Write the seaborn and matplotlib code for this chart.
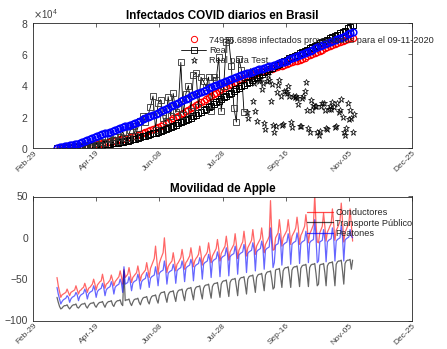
import itertools
import pandas as pd
import seaborn as sns
import matplotlib.pyplot as plt
import matplotlib.dates as mdates
from matplotlib.lines import Line2D

# ---- Infectados (miles de casos), todas las series empiezan el 19-03-2020 ----
# proyecciones y banda real suavizada, cada 2 dias
proj_red = [0.2, 0.25, 0.3, 0.4, 0.45, 0.55, 0.65, 0.75,
            0.85, 1.0, 1.2, 1.4, 1.6, 1.8, 2.0,
            2.2, 2.5, 2.8, 3.1, 3.4, 3.7, 4.1, 4.4,
            4.7, 5.1, 5.5, 5.9, 6.3, 6.7, 7.1,
            7.5, 8.0, 8.6, 9.1, 9.6, 10.2, 10.8, 11.3,
            11.9, 12.7, 13.5, 14.3, 15.1, 16.0, 16.9,
            18.0, 18.9, 19.8, 20.7, 21.7, 22.6, 23.5, 24.4,
            25.4, 26.3, 27.3, 28.3, 29.3, 30.3, 31.4,
            32.5, 33.5, 34.5, 35.5, 36.5, 37.5, 38.5, 39.4,
            40.3, 41.0, 41.8, 42.5, 43.3, 44.0, 44.8,
            45.5, 46.1, 46.7, 47.3, 47.9, 48.5, 49.0, 49.4,
            49.8, 50.3, 50.8, 51.3, 51.8, 52.2, 52.6,
            53.0, 53.6, 54.2, 54.8, 55.4, 56.0, 56.6, 57.2,
            57.9, 58.6, 59.4, 60.1, 60.9, 61.6, 62.3,
            63.0, 63.7, 64.4, 65.0, 65.7, 66.4, 67.1, 67.7,
            68.3, 68.9, 69.5, 70.1, 70.7]
proj_blue = [0.3, 0.6, 0.9, 1.2, 1.5, 1.8, 2.1, 2.4,
             2.8, 3.3, 3.8, 4.4, 5.0, 5.7, 6.4,
             7.1, 7.6, 8.2, 8.8, 9.3, 9.9, 10.5, 11.1,
             11.6, 12.1, 12.6, 13.2, 13.8, 14.4, 15.0,
             15.5, 16.2, 16.9, 17.6, 18.3, 19.0, 19.7, 20.4,
             21.1, 21.9, 22.7, 23.5, 24.2, 25.0, 25.8,
             26.6, 27.4, 28.2, 29.0, 29.8, 30.6, 31.4, 32.2,
             33.0, 33.8, 34.6, 35.3, 36.0, 36.7, 37.4,
             38.1, 38.8, 39.5, 40.2, 40.9, 41.6, 42.3, 43.0,
             43.6, 44.2, 44.8, 45.4, 46.0, 46.6, 47.2,
             47.8, 48.3, 48.8, 49.3, 49.8, 50.3, 50.8, 51.3,
             51.8, 52.3, 52.8, 53.3, 53.8, 54.3, 54.8,
             55.3, 56.0, 56.7, 57.4, 58.1, 58.8, 59.5, 60.2,
             60.9, 61.6, 62.3, 63.0, 63.7, 64.4, 65.1,
             65.8, 66.5, 67.2, 67.8, 68.5, 69.2, 69.9, 70.5,
             71.1, 72.0, 72.7, 73.4, 74.1]
real_band = [0.0, 0.05, 0.1, 0.15, 0.2, 0.3, 0.4, 0.45,
             0.55, 0.7, 0.8, 0.95, 1.1, 1.2, 1.35,
             1.5, 1.7, 1.9, 2.1, 2.3, 2.5, 2.7, 2.9,
             3.1, 3.4, 3.8, 4.1, 4.4, 4.8, 5.1,
             5.5, 6.0, 6.4, 6.9, 7.4, 7.9, 8.4, 8.8,
             9.3, 9.9, 10.5, 11.1, 11.7, 12.3, 12.9,
             13.5, 14.2, 15.0, 15.7, 16.4, 17.2, 17.9, 18.6,
             19.5, 20.5, 21.4, 22.3, 23.2, 24.1, 25.1,
             26.0, 27.1, 28.1, 29.2, 30.3, 31.3, 32.4, 33.5,
             34.5, 35.5, 36.5, 37.5, 38.5, 39.5, 40.5,
             41.5, 42.5, 43.5, 44.5, 45.5, 46.5, 47.5, 48.5,
             49.5, 50.4, 51.3, 52.2, 53.1, 54.0, 54.9,
             55.8, 56.6, 57.4, 58.2, 59.0, 59.8, 60.6, 61.4,
             62.2, 63.0, 63.8, 64.6, 65.4, 66.2, 67.0,
             67.8, 68.6, 69.4, 70.2, 71.0, 71.8, 72.6, 73.4,
             74.2, 75.0, 76.6, 77.6, 78.6]
# casos diarios reales, cada 2 dias
real_daily = [0.05, 0.1, 0.2, 0.3, 0.4, 0.5, 0.5, 1.1, 1.2,
              1.1, 1.2, 1.3, 1.9, 1.8, 2.1, 3.1, 1.9, 1.9, 3.7, 3.0, 5.5, 6.3, 5.4, 7.2,
              4.6, 6.9, 10.5, 6.6, 6.6, 11.4, 13.9, 7.9, 13.1, 17.4, 20.8, 16.5, 20.6, 26.4, 33.3,
              11.6, 28.6, 30.9, 18.9, 17.1, 32.9, 20.6, 34.9, 22.8, 25.9, 54.8, 21.4, 34.7, 40.0, 24.0,
              46.7, 48.1, 26.0, 45.3, 42.6, 39.0, 45.4, 24.0, 45.4, 43.8, 58.0, 23.4, 40.0, 67.9, 69.1,
              52.4, 25.8, 16.6, 57.2, 49.9, 23.0]
# casos diarios de test, desde el 15-08-2020
test_daily = [43.0,
              23.1, 19.4, 47.8, 49.3, 45.3, 30.4, 41.5,
              23.4, 17.0, 47.1, 42.7, 44.2, 37.9, 41.4,
              16.2, 12.3, 42.6, 46.9, 43.8, 30.2, 40.7,
              14.5, 10.3, 14.3, 35.8, 40.6, 43.7, 33.5,
              14.8, 15.1, 36.7, 36.8, 34.9, 39.8, 33.1,
              16.4, 13.4, 33.5, 32.8, 33.3, 31.9, 28.3,
              14.3, 14.3, 32.0, 33.4, 36.8, 42.0, 24.6,
              12.9, 10.0, 31.0, 24.3, 27.8, 27.1, 26.7,
              10.2, 8.4, 11.0, 27.2, 29.0, 28.5, 24.6,
              13.1, 12.3, 24.9, 27.2, 24.8, 29.7, 26.0,
              13.5, 14.0, 28.6, 23.2, 24.3, 31.3, 20.1,
              10.1, 8.5, 12.7, 28.7, 18.6, 24.5, 18.9,
              10.5, 22.0]

# ---- Movilidad Apple (% cambio), diario desde el 19-03-2020, por semanas ----
conductores = [
    [-48, -58, -65],
    [-72, -69, -68, -67, -66, -62, -66], [-70, -66, -65, -64, -63, -58, -63],
    [-68, -64, -63, -61, -60, -55, -60], [-66, -61, -60, -58, -56, -50, -56],
    [-63, -57, -55, -53, -52, -44, -52], [-61, -56, -55, -53, -51, -45, -51],
    [-58, -53, -51, -49, -47, -40, -47], [-56, -38, -48, -46, -44, -36, -44],
    [-54, -48, -46, -44, -42, -34, -42], [-52, -45, -43, -41, -39, -30, -39],
    [-48, -37, -33, -29, -25, -10, -27], [-44, -31, -26, -22, -18, 0, -20],
    [-42, -35, -32, -30, -28, -18, -28], [-40, -32, -30, -27, -24, -14, -24],
    [-38, -30, -28, -25, -22, -12, -22], [-35, -28, -25, -23, -20, -10, -20],
    [-33, -25, -22, -20, -17, -6, -17], [-30, -22, -19, -16, -13, -2, -13],
    [-28, -19, -16, -13, -10, 2, -10], [-27, -17, -14, -11, -8, 5, -8],
    [-25, -15, -12, -8, -5, 8, -5], [-22, -12, -9, -6, -3, 10, -3],
    [-20, -10, -7, -4, -1, 12, -1], [-18, -8, -5, -2, 2, 45, 5],
    [-15, -14, 0, 3, 6, 22, 8], [-10, 0, 3, 6, 9, 22, 9],
    [-8, 2, 5, 8, 12, 25, 12], [-8, 3, 6, 10, 14, 28, 14],
    [-6, 5, 8, 12, 16, 52, 18], [-5, -6, 6, 10, 14, 30, 14],
    [-4, 7, 10, 14, 17, 35, 17], [-3, 9, 12, 16, 20, 42, 20],
    [-5, 7, 10, 14, 17, 35, 15], [-4]]
transporte = [
    [-72, -78, -83],
    [-86, -85, -83, -82, -82, -81, -84], [-86, -84, -82, -81, -81, -80, -84],
    [-85, -83, -81, -80, -80, -79, -83], [-85, -82, -80, -79, -79, -78, -82],
    [-84, -81, -79, -78, -78, -77, -81], [-84, -80, -78, -77, -77, -76, -81],
    [-83, -79, -77, -76, -76, -75, -80], [-82, -40, -76, -75, -75, -74, -79],
    [-82, -78, -75, -74, -74, -73, -78], [-81, -76, -73, -72, -72, -71, -77],
    [-80, -74, -71, -70, -70, -69, -75], [-79, -70, -67, -66, -66, -65, -72],
    [-78, -69, -66, -65, -65, -64, -71], [-77, -67, -64, -63, -63, -62, -70],
    [-76, -65, -62, -61, -61, -60, -68], [-75, -63, -60, -59, -59, -58, -67],
    [-74, -61, -58, -57, -57, -56, -65], [-73, -59, -56, -55, -55, -54, -63],
    [-72, -56, -53, -52, -52, -51, -61], [-71, -54, -51, -50, -50, -49, -59],
    [-70, -52, -49, -48, -48, -47, -57], [-68, -50, -47, -46, -46, -45, -55],
    [-66, -48, -45, -44, -44, -43, -53], [-64, -45, -42, -41, -41, -40, -50],
    [-62, -60, -39, -38, -38, -37, -48], [-60, -40, -37, -36, -36, -35, -46],
    [-60, -39, -36, -35, -35, -34, -45], [-59, -37, -34, -33, -33, -32, -44],
    [-59, -36, -33, -32, -32, -31, -43], [-58, -56, -33, -32, -32, -31, -42],
    [-58, -34, -31, -30, -30, -29, -41], [-58, -32, -29, -28, -28, -27, -40],
    [-56, -31, -28, -27, -27, -26, -38], [-27]]
peatones = [
    [-60, -68, -74],
    [-80, -77, -75, -74, -73, -70, -72], [-78, -74, -72, -71, -70, -66, -69],
    [-76, -71, -69, -68, -67, -62, -66], [-74, -68, -66, -65, -64, -58, -63],
    [-72, -65, -63, -62, -61, -55, -60], [-70, -63, -61, -60, -59, -53, -58],
    [-68, -60, -58, -57, -56, -50, -55], [-66, -35, -56, -55, -54, -47, -53],
    [-64, -55, -53, -52, -51, -44, -50], [-62, -53, -51, -50, -49, -42, -48],
    [-60, -49, -47, -46, -45, -35, -44], [-58, -43, -41, -40, -39, -28, -38],
    [-56, -43, -41, -40, -39, -32, -38], [-55, -40, -38, -37, -36, -28, -35],
    [-53, -37, -35, -34, -33, -26, -32], [-52, -35, -33, -32, -31, -24, -30],
    [-50, -32, -30, -29, -28, -20, -27], [-48, -29, -27, -26, -25, -17, -24],
    [-47, -25, -23, -22, -21, -12, -20], [-46, -23, -21, -20, -19, -10, -18],
    [-44, -21, -19, -18, -17, -8, -16], [-42, -19, -17, -16, -15, -6, -14],
    [-40, -17, -15, -14, -13, -4, -12], [-38, -15, -13, -12, -11, 12, -8],
    [-36, -30, -9, -8, -7, 5, -5], [-33, -9, -7, -6, -5, 5, -4],
    [-32, -8, -6, -5, -4, 6, -3], [-31, -7, -5, -4, -3, 8, -2],
    [-30, -6, -4, -3, -2, 22, 0], [-30, -28, -5, -4, -3, 10, -2],
    [-29, -5, -3, -2, -1, 12, 0], [-28, -4, -2, -1, 0, 15, 1],
    [-28, -3, -1, 0, 1, 10, 2], [0]]

legend_top = ["74926.6898 infectados proyectados para el 09-11-2020", "Real", "Real para Test"]
legend_bottom = ["Conductores", "Transporte Público", "Peatones"]
tick_dates = ["2020-02-29", "2020-04-19", "2020-06-08", "2020-07-28",
              "2020-09-16", "2020-11-05", "2020-12-25"]

GRAY = "#262626"


def style_axes(ax):
    for s in ax.spines.values():
        s.set_color(GRAY)
        s.set_linewidth(0.6)
        s.set_visible(True)
    ax.tick_params(direction="in", top=True, right=True, length=3, width=0.5,
                   colors=GRAY, labelsize=7.5, labelcolor="#404040")
    ax.tick_params(axis="x", labelsize=6.0, pad=1)
    ax.set_xlim(pd.Timestamp("2020-02-29"), pd.Timestamp("2020-12-25"))
    ax.set_xticks(pd.to_datetime(tick_dates))
    ax.xaxis.set_major_formatter(mdates.DateFormatter("%b-%d"))
    for lab in ax.get_xticklabels():
        lab.set_rotation(45)
        lab.set_ha("right")
        lab.set_rotation_mode("anchor")
    ax.set_xlabel("")
    ax.set_ylabel("")


def main():
    sns.set_theme(style="white")
    plt.rcParams["font.family"] = ["Liberation Sans", "DejaVu Sans"]

    fig = plt.figure(figsize=(4.47, 3.49), dpi=100)
    ax1 = fig.add_axes([33 / 447, 201 / 349, 379 / 447, 125 / 349])
    ax2 = fig.add_axes([33 / 447, 28.5 / 349, 379 / 447, 124 / 349])

    d2 = pd.date_range("2020-03-19", periods=len(proj_red), freq="2D")
    smooth = pd.DataFrame({"fecha": d2,
                           "rojo": [v * 1000 for v in proj_red],
                           "azul": [v * 1000 for v in proj_blue],
                           "banda": [v * 1000 for v in real_band]})
    real = pd.DataFrame({"fecha": pd.date_range("2020-03-19", periods=len(real_daily), freq="2D"),
                         "casos": [v * 1000 for v in real_daily]})
    test = pd.DataFrame({"fecha": pd.date_range("2020-08-15", periods=len(test_daily), freq="D"),
                         "casos": [v * 1000 for v in test_daily]})

    common = dict(estimator=None, sort=False, ax=ax1, legend=False)
    sns.lineplot(data=smooth, x="fecha", y="rojo", linestyle="none", marker="o",
                 markersize=4.5, markerfacecolor="none", markeredgecolor="red",
                 markeredgewidth=0.9, **common)
    sns.lineplot(data=smooth, x="fecha", y="banda", linestyle="none", marker="s",
                 markersize=4.5, markerfacecolor="none", markeredgecolor="black",
                 markeredgewidth=0.7, **common)
    sns.lineplot(data=real, x="fecha", y="casos", color="black", linewidth=0.6,
                 marker="s", markersize=4.5, markerfacecolor="none",
                 markeredgecolor="#333333", markeredgewidth=0.6, **common)
    sns.lineplot(data=test, x="fecha", y="casos", linestyle="none", marker="*",
                 markersize=5, markerfacecolor="none", markeredgecolor="black",
                 markeredgewidth=0.5, **common)
    sns.lineplot(data=smooth, x="fecha", y="azul", linestyle="none", marker="o",
                 markersize=4.8, markerfacecolor="none", markeredgecolor="blue",
                 markeredgewidth=1.1, **common)

    style_axes(ax1)
    ax1.set_ylim(0, 80000)
    ax1.set_yticks([0, 20000, 40000, 60000, 80000])
    ax1.ticklabel_format(axis="y", style="sci", scilimits=(4, 4), useMathText=True)
    ax1.yaxis.get_offset_text().set_fontsize(7)
    ax1.yaxis.get_offset_text().set_color("#404040")
    ax1.set_title("Infectados COVID diarios en Brasil", fontsize=8.4,
                  fontweight="bold", color="black", pad=3)

    handles = [Line2D([], [], linestyle="none", marker="o", markersize=4.5,
                      markerfacecolor="none", markeredgecolor="red", markeredgewidth=0.7),
               Line2D([], [], color="black", linewidth=0.6, marker="s", markersize=4.5,
                      markerfacecolor="none", markeredgecolor="black", markeredgewidth=0.6),
               Line2D([], [], linestyle="none", marker="*", markersize=5,
                      markerfacecolor="none", markeredgecolor="black", markeredgewidth=0.5)]
    ax1.legend(handles, legend_top, loc="upper left", bbox_to_anchor=(0.39, 0.90),
               frameon=False, fontsize=6.6, handlelength=2.8, handletextpad=0.3,
               labelspacing=0.15, borderpad=0, borderaxespad=0)

    # ---- movilidad ----
    mov = pd.DataFrame({
        "fecha": pd.date_range("2020-03-19", periods=len(list(itertools.chain(*conductores))), freq="D"),
        "Conductores": list(itertools.chain(*conductores)),
        "Transporte Público": list(itertools.chain(*transporte)),
        "Peatones": list(itertools.chain(*peatones)),
    })
    colors = {"Conductores": "red", "Transporte Público": "black", "Peatones": "blue"}
    for name in legend_bottom:
        sns.lineplot(data=mov, x="fecha", y=name, color=colors[name], linewidth=0.9,
                     alpha=0.6, estimator=None, sort=False, ax=ax2, legend=False)

    style_axes(ax2)
    ax2.set_ylim(-100, 50)
    ax2.set_yticks([-100, -50, 0, 50])
    ax2.set_title("Movilidad de Apple", fontsize=8.4, fontweight="bold",
                  color="black", pad=3)
    h2 = [Line2D([], [], color=colors[n], linewidth=0.9, alpha=0.7) for n in legend_bottom]
    ax2.legend(h2, legend_bottom, loc="upper left", bbox_to_anchor=(0.723, 0.905),
               frameon=False, fontsize=6.6, handlelength=2.8, handletextpad=0.3,
               labelspacing=0.15, borderpad=0, borderaxespad=0)

    fig.savefig("out.png", dpi=100)
    plt.close(fig)


if __name__ == "__main__":
    main()
